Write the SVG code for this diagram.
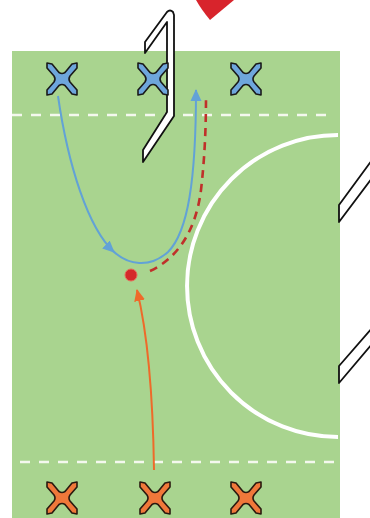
<svg xmlns="http://www.w3.org/2000/svg" width="370" height="518" viewBox="0 0 370 518">
<defs>
<style>
.field{fill:#a9d48f}
.wdash{stroke:#f4f8ee;stroke-width:2.5;stroke-dasharray:10 9;fill:none}
.arc{stroke:#ffffff;stroke-width:4;fill:none}
.stick{fill:#ffffff;stroke:#111;stroke-width:1.8;stroke-linejoin:round}
.xb{fill:#6ea6dc;stroke:#1a1a1a;stroke-width:1.6;stroke-linejoin:round}
.xo{fill:#f0783a;stroke:#2a1a10;stroke-width:1.6;stroke-linejoin:round}
.blue{stroke:#62a2d6;stroke-width:2;fill:none}
.orange{stroke:#ee6a2a;stroke-width:2;fill:none}
.reddash{stroke:#c0302a;stroke-width:2.6;fill:none;stroke-dasharray:8 6}
</style>
<path id="xshape" d="M -15,-16 L -10,-15 L -3,-6.5 Q 0,-4.5 3,-6.5 L 10,-15 L 15,-16 L 15,-11 L 8,-3 Q 6,0 8,3 L 15,11 L 15,16 L 10,15 L 3,6.5 Q 0,4.5 -3,6.5 L -10,15 L -15,16 L -15,11 L -8,3 Q -6,0 -8,-3 L -15,-11 Z"/>
<marker id="ab" markerWidth="14" markerHeight="14" refX="11" refY="7" orient="auto" markerUnits="userSpaceOnUse">
<path d="M0,1.5 L12,7 L0,12.5 Z" fill="#62a2d6"/>
</marker>
<marker id="ao" markerWidth="14" markerHeight="14" refX="11" refY="7" orient="auto" markerUnits="userSpaceOnUse">
<path d="M0,1.5 L12,7 L0,12.5 Z" fill="#ee6a2a"/>
</marker>
</defs>
<rect width="370" height="518" fill="#ffffff"/>
<g id="pitch">
<rect class="field" x="12" y="51" width="328" height="467"/>
<line class="wdash" x1="12" y1="115" x2="334" y2="115"/>
<line class="wdash" x1="20" y1="462" x2="340" y2="462"/>
<path class="arc" d="M 338,135 A 151,151 0 0 0 338,437"/>
</g>
<g id="red-mark">
<path d="M 196,0 Q 201,9 210,20 Q 222,10 234,0 Z" fill="#d8242c"/>
</g>
<g id="stick-top">
<path class="stick" d="M 145,42 L 167,12 Q 170,9 173,12 L 174,15 L 174,116 L 143,162 L 143,150 L 167,112 L 167,22 L 145,53 Z"/>
</g>
<g id="stick-right-1">
<path class="stick" d="M 372,160 L 339,205 L 339,222 L 372,178 Z"/>
</g>
<g id="stick-right-2">
<path class="stick" d="M 372,328 L 339,366 L 339,383 L 372,344 Z"/>
</g>
<g id="connectors">
<path class="blue" d="M 58,96 C 68,165 88,228 114,252" marker-end="url(#ab)"/>
<path class="blue" d="M 112,250 C 128,266 150,268 168,252 C 188,232 196,180 196,90" marker-end="url(#ab)"/>
<path class="reddash" d="M 150,271 C 178,258 196,230 201,190 C 205,155 206,125 206,95"/>
<path class="orange" d="M 154,470 C 153,400 148,335 137,290" marker-end="url(#ao)"/>
</g>
<g id="ball">
<circle cx="131" cy="275" r="6" fill="#d42a2a" stroke="#e86a5a" stroke-width="1"/>
</g>
<g id="blue-1"><use href="#xshape" class="xb" x="62" y="79"/></g>
<g id="blue-2"><use href="#xshape" class="xb" x="153" y="79"/></g>
<g id="blue-3"><use href="#xshape" class="xb" x="246" y="79"/></g>
<g id="orange-1"><use href="#xshape" class="xo" x="62" y="498"/></g>
<g id="orange-2"><use href="#xshape" class="xo" x="155" y="498"/></g>
<g id="orange-3"><use href="#xshape" class="xo" x="246" y="498"/></g>
</svg>
